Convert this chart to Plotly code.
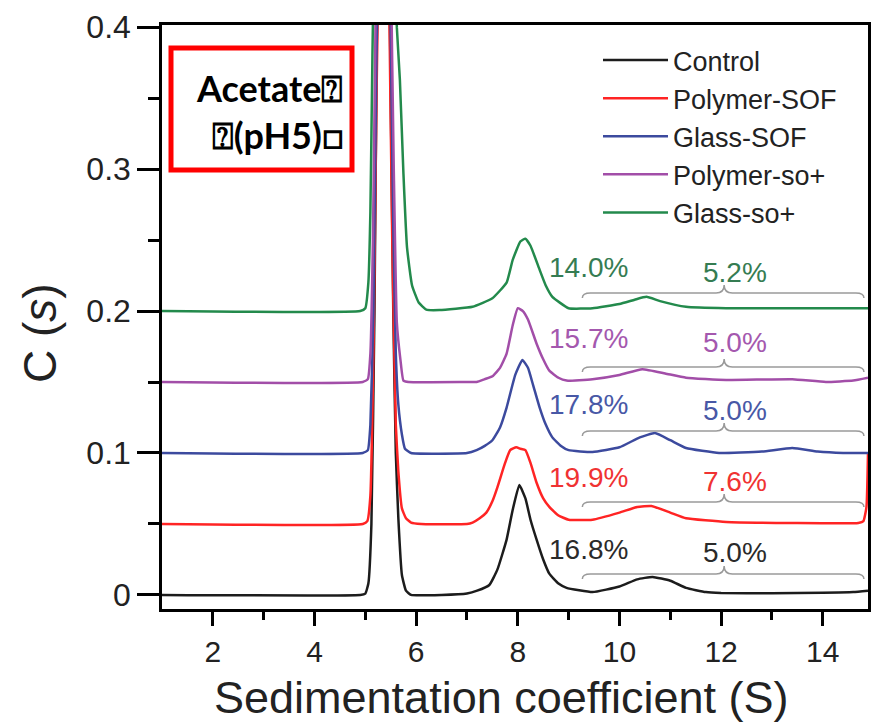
import plotly.graph_objects as go

# ---------------- data ----------------
names = ["Control", "Polymer-SOF", "Glass-SOF", "Polymer-so+", "Glass-so+"]
colors = ["#1c1c1c", "#ff2424", "#3c4a9e", "#a24ea8", "#238a4c"]
text_colors = ["#2a2a2a", "#f03232", "#4858a6", "#a458ae", "#357c52"]

control_x = [1.0, 4.9, 5.0, 5.06, 5.12, 5.18, 5.24, 5.36, 5.47, 5.55, 5.6, 5.65, 5.72,
             5.8, 5.9, 6.5, 7.0, 7.2, 7.44, 7.6, 7.78, 7.9, 8.03, 8.15, 8.25, 8.37, 8.5,
             8.62, 8.8, 8.96, 9.47, 10.0, 10.35, 10.65, 11.0, 11.31, 11.7, 12.0, 13.0,
             14.0, 14.6, 14.89]
control_y = [0.0, 0.0, 0.001, 0.008, 0.05, 0.2, 0.45, 0.9, 0.45, 0.2, 0.1, 0.054, 0.014,
             0.003, 0.0, 0.0, 0.001, 0.003, 0.007, 0.018, 0.039, 0.06, 0.0775, 0.068,
             0.053, 0.039, 0.025, 0.015, 0.008, 0.005, 0.002, 0.006, 0.011, 0.0127, 0.01,
             0.005, 0.002, 0.0014, 0.0012, 0.0015, 0.002, 0.003]

polsof_x = [1.0, 4.95, 5.04, 5.1, 5.16, 5.22, 5.26, 5.36, 5.46, 5.53, 5.6, 5.65, 5.72,
            5.8, 5.9, 6.1, 7.0, 7.11, 7.25, 7.38, 7.5, 7.6, 7.75, 7.85, 7.97, 8.05, 8.15,
            8.25, 8.37, 8.5, 8.62, 8.8, 9.0, 9.47, 10.0, 10.35, 10.63, 11.0, 11.31, 12.1,
            13.4, 14.7, 14.8, 14.86, 14.89]
polsof_y = [0.05, 0.05, 0.052, 0.07, 0.17, 0.35, 0.45, 0.9, 0.45, 0.25, 0.12, 0.087,
            0.061, 0.054, 0.051, 0.05, 0.05, 0.051, 0.054, 0.058, 0.066, 0.076, 0.093,
            0.102, 0.104, 0.103, 0.102, 0.093, 0.079, 0.068, 0.062, 0.056, 0.053, 0.053,
            0.058, 0.062, 0.0627, 0.058, 0.054, 0.0514, 0.0507, 0.0507, 0.052, 0.062, 0.1]

glasof_x = [1.0, 4.95, 5.05, 5.1, 5.16, 5.22, 5.26, 5.36, 5.48, 5.55, 5.6, 5.65, 5.72,
            5.78, 5.9, 7.0, 7.19, 7.35, 7.5, 7.65, 7.78, 7.95, 8.09, 8.2, 8.3, 8.43, 8.55,
            8.68, 8.85, 9.0, 9.47, 10.0, 10.4, 10.7, 11.0, 11.31, 11.96, 12.8, 13.4, 13.9,
            14.4, 14.89]
glasof_y = [0.1, 0.1, 0.102, 0.12, 0.2, 0.38, 0.46, 0.9, 0.45, 0.26, 0.17, 0.134, 0.113,
            0.103, 0.1, 0.1, 0.102, 0.105, 0.109, 0.118, 0.132, 0.155, 0.1655, 0.16, 0.148,
            0.132, 0.12, 0.111, 0.105, 0.102, 0.1007, 0.104, 0.111, 0.114, 0.109, 0.1035,
            0.1, 0.101, 0.1035, 0.101, 0.1, 0.1]

polso_x = [1.0, 4.95, 5.05, 5.1, 5.15, 5.2, 5.36, 5.5, 5.56, 5.62, 5.69, 5.75, 5.85, 7.0,
           7.19, 7.35, 7.5, 7.65, 7.78, 7.9, 8.0, 8.1, 8.2, 8.37, 8.5, 8.62, 8.8, 8.96,
           9.47, 10.0, 10.45, 10.9, 11.31, 12.1, 13.4, 14.06, 14.6, 14.89]
polso_y = [0.15, 0.15, 0.152, 0.17, 0.25, 0.4, 0.9, 0.45, 0.3, 0.192, 0.166, 0.151, 0.15,
           0.15, 0.15, 0.152, 0.154, 0.16, 0.17, 0.19, 0.202, 0.2, 0.194, 0.177, 0.166,
           0.158, 0.153, 0.151, 0.152, 0.155, 0.159, 0.156, 0.153, 0.1514, 0.152, 0.15,
           0.151, 0.153]

glaso_x = [1.0, 4.9, 5.0, 5.06, 5.1, 5.14, 5.17, 5.36, 5.58, 5.62, 5.68, 5.75, 5.82, 5.92,
           6.05, 6.2, 6.46, 7.11, 7.5, 7.78, 7.9, 8.05, 8.15, 8.25, 8.43, 8.55, 8.68, 9.0,
           9.47, 10.0, 10.3, 10.53, 10.8, 11.31, 12.1, 13.5, 14.89]
glaso_y = [0.2, 0.2, 0.202, 0.22, 0.27, 0.38, 0.45, 0.9, 0.45, 0.4, 0.363, 0.297, 0.245,
           0.218, 0.206, 0.201, 0.2007, 0.203, 0.209, 0.22, 0.236, 0.249, 0.251, 0.246,
           0.229, 0.218, 0.21, 0.202, 0.202, 0.205, 0.208, 0.21, 0.207, 0.203, 0.202,
           0.202, 0.202]

series_x = [control_x, polsof_x, glasof_x, polso_x, glaso_x]
series_y = [control_y, polsof_y, glasof_y, polso_y, glaso_y]

# percentage annotations: (left label, right label) and bracket levels
left_labels = ["16.8%", "19.9%", "17.8%", "15.7%", "14.0%"]
right_labels = ["5.0%", "7.6%", "5.0%", "5.0%", "5.2%"]
left_label_y = [0.0317, 0.083, 0.134, 0.181, 0.231]
right_label_y = [0.0296, 0.0796, 0.130, 0.1775, 0.2275]
bracket_y = [0.0148, 0.0655, 0.1155, 0.1606, 0.2127]
bracket_x = [9.27, 12.06, 14.81]   # left end, centre notch, right end

x_ticks = [2, 4, 6, 8, 10, 12, 14]
x_minor = [3, 5, 7, 9, 11, 13]
y_ticks = [0, 0.1, 0.2, 0.3, 0.4]
y_ticktext = ["0", "0.1", "0.2", "0.3", "0.4"]
y_minor = [0.05, 0.15, 0.25, 0.35]

# ---------------- figure ----------------
fig = go.Figure()
for nm, c, xs, ys in zip(names, colors, series_x, series_y):
    fig.add_trace(go.Scatter(x=xs, y=ys, mode="lines", name=nm,
                             line=dict(color=c, width=2.5, shape="spline", smoothing=0.4)))

FONT = "Liberation Sans, Arial, sans-serif"

W, H = 875, 728
L, R, T, B = 162, 7, 25, 119
pw, ph = W - L - R, H - T - B
def px(xp):
    return (xp - L) / pw
def py(yp):
    return 1 - (yp - T) / ph

# brackets (curly braces) and labels
dx, dy = 0.16, 0.0035
xl, xc, xr = bracket_x
for i in range(len(names)):
    yb = bracket_y[i]
    path = (f"M {xl},{yb-dy} Q {xl},{yb} {xl+dx},{yb} L {xc-dx},{yb} "
            f"Q {xc},{yb} {xc},{yb+dy*1.6} Q {xc},{yb} {xc+dx},{yb} "
            f"L {xr-dx},{yb} Q {xr},{yb} {xr},{yb-dy}")
    fig.add_shape(type="path", path=path, xref="x", yref="y",
                  line=dict(color="#9a9a9a", width=1.5))
    fig.add_annotation(x=9.4, y=left_label_y[i], text=left_labels[i], showarrow=False,
                       xref="x", yref="y", font=dict(family=FONT, size=28, color=text_colors[i]))
    fig.add_annotation(x=12.28, y=right_label_y[i], text=right_labels[i], showarrow=False,
                       xref="x", yref="y", font=dict(family=FONT, size=28, color=text_colors[i]))

# red box with buffer text
fig.add_shape(type="rect", xref="paper", yref="paper",
              x0=px(171), x1=px(352), y0=py(170), y1=py(48),
              line=dict(color="#ff0000", width=5), fillcolor="rgba(0,0,0,0)")
fig.add_annotation(xref="paper", yref="paper", x=px(345), y=py(112), xanchor="right",
                   yanchor="middle", showarrow=False, align="right",
                   text="<b>Acetate\u2370<br>\u2370(pH5)\u25a1</b>",
                   font=dict(family="Lato, sans-serif", size=36, color="black"))

# axis titles
fig.add_annotation(xref="paper", yref="paper", x=px(501), y=py(697), xanchor="center",
                   yanchor="middle", showarrow=False, text="Sedimentation coefficient (S)",
                   font=dict(family=FONT, size=45, color="#222"))
fig.add_annotation(xref="paper", yref="paper", x=px(40), y=py(333), xanchor="center",
                   yanchor="middle", showarrow=False, text="C (<i>s</i>)", textangle=-90,
                   font=dict(family=FONT, size=46, color="#222"))

axis_common = dict(showline=True, linecolor="black", linewidth=2.5, mirror=True,
                   ticks="outside", tickcolor="black", tickwidth=2.5, showgrid=False,
                   zeroline=False)

fig.update_xaxes(range=[1, 14.89], tickvals=x_ticks, ticklen=14,
                 tickfont=dict(family=FONT, size=30, color="#222"),
                 minor=dict(tickvals=x_minor, ticks="outside", ticklen=8, tickwidth=2.5,
                            tickcolor="black"),
                 **axis_common)
fig.update_yaxes(range=[-0.0099, 0.4015], tickvals=y_ticks, ticktext=y_ticktext, ticklen=22,
                 tickfont=dict(family=FONT, size=32, color="#222"),
                 minor=dict(tickvals=y_minor, ticks="outside", ticklen=11, tickwidth=2.5,
                            tickcolor="black"),
                 **axis_common)

fig.update_layout(
    width=W, height=H,
    margin=dict(l=L, r=R, t=T, b=B, autoexpand=False),
    paper_bgcolor="white", plot_bgcolor="white",
    showlegend=True,
    legend=dict(x=px(598), y=py(36), xanchor="left", yanchor="top",
                bgcolor="rgba(0,0,0,0)", itemwidth=65,
                font=dict(family=FONT, size=27, color="#222")),
)

fig.write_html("out.html")
